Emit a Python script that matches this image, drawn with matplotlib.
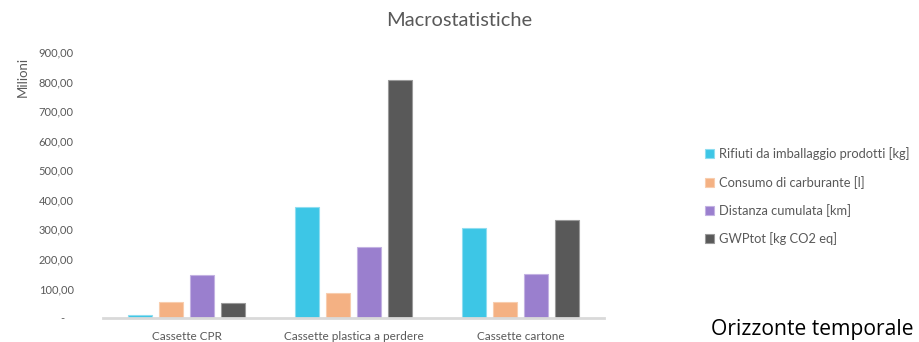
import matplotlib
matplotlib.use("Agg")
import matplotlib.pyplot as plt
import numpy as np
from matplotlib.ticker import FuncFormatter

categories = ["Cassette CPR", "Cassette plastica a perdere", "Cassette cartone"]
series_names = [
    "Rifiuti da imballaggio prodotti [kg]",
    "Consumo di carburante [l]",
    "Distanza cumulata [km]",
    "GWPtot [kg CO2 eq]",
]
rifiuti = [9, 375, 303]
carburante = [53, 86, 53]
distanza = [147, 240, 150]
gwp = [52, 805, 330]
yticks = [0, 100, 200, 300, 400, 500, 600, 700, 800, 900]

colors = ["#3DC6E6", "#F4B183", "#9A7FCE", "#595959"]
edges = ["#8FDDF0", "#F8CDAE", "#C3B2E2", "#9A9A9A"]
grey = "#595959"
font = ["Lato", "DejaVu Sans"]

fig = plt.figure(figsize=(9.19, 3.42), dpi=100)
ax = fig.add_axes([103 / 919, 1 - 318 / 342, 501 / 919, 266 / 342])

x = np.arange(len(categories))
step = 0.186
width = 0.144
for i, (vals, name) in enumerate(zip([rifiuti, carburante, distanza, gwp], series_names)):
    ax.bar(x + (i - 1.5) * step, vals, width, color=colors[i], edgecolor=edges[i],
           linewidth=0.8, label=name, zorder=2)

ax.set_xlim(-0.5, 2.5)
ax.set_ylim(0, 900)
ax.set_yticks(yticks)
ax.yaxis.set_major_formatter(FuncFormatter(
    lambda v, p: "-   " if v == 0 else f"{v:,.2f}".replace(",", "X").replace(".", ",").replace("X", ".")))
ax.set_xticks(x)
ax.set_xticklabels(categories)
for s in ["top", "right", "left"]:
    ax.spines[s].set_visible(False)
ax.spines["bottom"].set_color("#D9D9D9")
ax.spines["bottom"].set_linewidth(2)
ax.tick_params(axis="both", length=0)
ax.tick_params(axis="y", pad=21, labelsize=8, labelcolor=grey)
ax.tick_params(axis="x", pad=9, labelsize=8.5, labelcolor=grey)
for lab in ax.get_yticklabels() + ax.get_xticklabels():
    lab.set_family(font)

fig.text(23 / 919, 1 - 77 / 342, "Milioni", rotation=90, ha="center", va="center",
         fontsize=9.5, color=grey, family=font)
fig.text(459 / 919, 1 - 20 / 342, "Macrostatistiche", ha="center", va="center",
         fontsize=14.4, color=grey, family=font)

leg = fig.legend(loc="upper left", bbox_to_anchor=(700 / 919, 1 - 142 / 342),
                 frameon=False, prop={"family": font, "size": 9.3},
                 handlelength=0.7, handleheight=0.7, handletextpad=0.4,
                 labelspacing=1.2, borderaxespad=0)
for t in leg.get_texts():
    t.set_color(grey)

fig.text(711 / 919, 1 - 330 / 342, "Orizzonte temporale", ha="left", va="center",
         fontsize=15.2, color="black", family=["Open Sans", "DejaVu Sans"])

fig.savefig("out.png", dpi=100)
